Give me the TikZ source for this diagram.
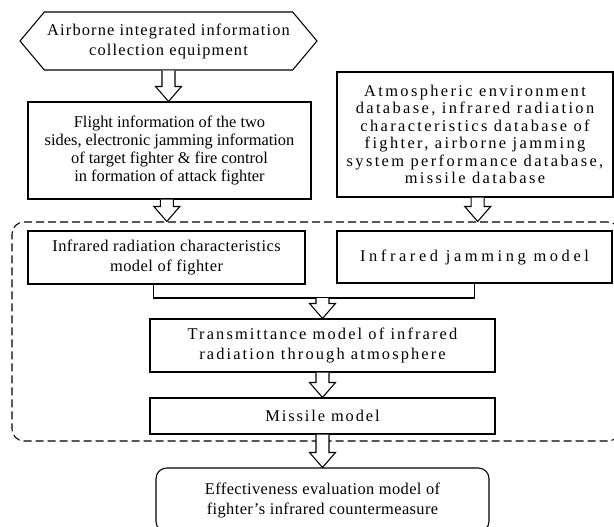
\documentclass[tikz,border=0pt]{standalone}
\usepackage{fontspec}
\setmainfont{Liberation Serif}
\usetikzlibrary{calc,positioning,shapes.symbols}

% hollow block arrow, drawn straight down from #1 to the level of #2
\newcommand{\fatarrow}[2]{%
  \coordinate (fa-s) at (#1);
  \coordinate (fa-t) at (#1 |- #2);
  \draw[fill=white] ($(fa-s)+(-6.5,0)$) -- ($(fa-t)+(-6.5,-15)$) -- ($(fa-t)+(-13,-15)$)
    -- (fa-t) -- ($(fa-t)+(13,-15)$) -- ($(fa-t)+(6.5,-15)$) -- ($(fa-s)+(6.5,0)$);}
\newcommand{\spaced}[1]{\addfontfeature{LetterSpace=#1}}

\begin{document}
\begin{tikzpicture}[x=0.75pt,y=-0.75pt,line width=0.8pt]
\tikzstyle{block}=[draw, rectangle, align=center, inner sep=0pt, font=\fontsize{12.3}{15}\selectfont]
\tikzstyle{hexa}=[draw, signal, signal to=west and east, signal pointer angle=100, align=center, inner sep=0pt, font=\fontsize{12.3}{15}\selectfont]
\tikzstyle{frame}=[draw, rectangle, rounded corners=9pt, dash pattern=on 6pt off 3pt]
\useasboundingbox (0,0) rectangle (614,526);
\node[frame, minimum width=456pt, minimum height=164.25pt] (models) at (316,331.5) {};
\node[hexa, minimum width=222.75pt, minimum height=43.5pt] (collect) at (168.5,41)
  {\spaced{7}Airborne integrated information\\\spaced{7}collection equipment};
\node[block, minimum width=212.25pt, minimum height=72.75pt, font=\fontsize{12.3}{13.5}\selectfont] (flight) at (169.5,150.5)
  {Flight information of the two\\sides, electronic jamming information\\of target fighter \& fire control\\in formation of attack fighter};
\node[block, minimum width=207pt, minimum height=93.75pt, font=\fontsize{12.3}{13.1}\selectfont\spaced{14.5}] (data) at (475,134.5)
  {Atmospheric environment\\database, infrared radiation\\characteristics database of\\fighter, airborne jamming\\system performance database,\\missile database};
\node[block, minimum width=207.75pt, minimum height=39.75pt, font=\fontsize{12.3}{15}\selectfont\spaced{3}] (radiate) at (166.5,257.5)
  {Infrared radiation characteristics\\model of fighter};
\node[block, minimum width=206.25pt, minimum height=39pt, font=\fontsize{12.3}{15}\selectfont\spaced{22}] (jam) at (474.5,257)
  {Infrared jamming model};
\node[block, minimum width=258.75pt, minimum height=39.75pt, font=\fontsize{12.3}{15}\selectfont\spaced{13}] (trans) at (322.5,345.5)
  {Transmittance model of infrared\\radiation through atmosphere};
\node[block, minimum width=258.75pt, minimum height=27pt, font=\fontsize{12.3}{15}\selectfont\spaced{11.5}] (missile) at (322.5,416)
  {Missile model};
\node[block, rounded corners=8pt, minimum width=249.75pt, minimum height=48pt, font=\fontsize{12.3}{15}\selectfont\spaced{2.5}] (eval) at (322.5,500)
  {Effectiveness evaluation model of\\fighter's infrared countermeasure};
\coordinate (join) at (322.5,298);
\draw ([xshift=-10pt]radiate.south) |- (join) -| (jam.south);
\fatarrow{collect.south}{flight.north}
\fatarrow{[xshift=-2pt]flight.south}{models.north}
\fatarrow{[xshift=2pt]data.south}{models.north}
\fatarrow{join}{trans.north}
\fatarrow{trans.south}{missile.north}
\fatarrow{missile.south}{eval.north}
\end{tikzpicture}
\end{document}
